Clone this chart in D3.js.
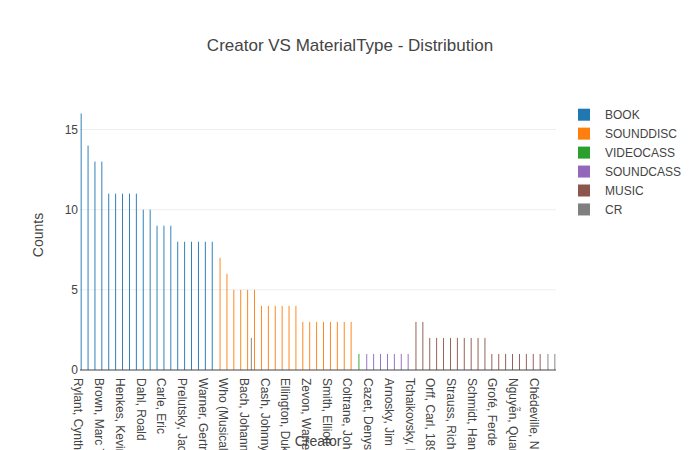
<!DOCTYPE html>
<html>
<head>
<meta charset="utf-8">
<script src="https://cdn.jsdelivr.net/npm/d3@7"></script>
<style>
  html, body { margin: 0; padding: 0; background: #fff; }
  svg { display: block; font-family: "Liberation Sans", Arial, sans-serif; }
</style>
</head>
<body>
<svg id="chart" width="700" height="450"></svg>
<script>
// ---------- DATA (one trace per MaterialType, creators sorted by count) ----------
const materialTypes = ["BOOK", "SOUNDDISC", "VIDEOCASS", "SOUNDCASS", "MUSIC", "CR"];
const typeColors = ["#1f77b4", "#ff7f0e", "#2ca02c", "#9467bd", "#8c564b", "#7f7f7f"];

const bookCreators = [
  "Rylant, Cynthia", "(book creator 2)", "(book creator 3)", "Brown, Marc Tolon",
  "(book creator 5)", "(book creator 6)", "Henkes, Kevin", "(book creator 8)",
  "(book creator 9)", "Dahl, Roald", "(book creator 11)", "(book creator 12)",
  "Carle, Eric", "(book creator 14)", "(book creator 15)", "Prelutsky, Jack",
  "(book creator 17)", "(book creator 18)", "Warner, Gertrude Chandler", "(book creator 20)"
];
const bookCounts = [16, 14, 13, 13, 11, 11, 11, 11, 11, 10, 10, 9, 9, 9, 8, 8, 8, 8, 8, 8];

const sounddiscCreators = [
  "(sounddisc creator 1)", "Who (Musical group)", "(sounddisc creator 3)", "(sounddisc creator 4)",
  "Bach, Johann Sebastian", "(sounddisc creator 6)", "(sounddisc creator 7)", "Cash, Johnny",
  "(sounddisc creator 9)", "(sounddisc creator 10)", "Ellington, Duke", "(sounddisc creator 12)",
  "(sounddisc creator 13)", "Zevon, Warren", "(sounddisc creator 15)", "(sounddisc creator 16)",
  "Smith, Elliott", "(sounddisc creator 18)", "(sounddisc creator 19)", "Coltrane, John"
];
const sounddiscCounts = [7, 6, 5, 5, 5, 5, 4, 4, 4, 4, 4, 4, 3, 3, 3, 3, 3, 3, 3, 3];

const videocassCreators = ["(videocass creator 1)"];
const videocassCounts = [1];

const soundcassCreators = [
  "(soundcass creator 1)", "Cazet, Denys", "(soundcass creator 3)", "(soundcass creator 4)",
  "Arnosky, Jim", "(soundcass creator 6)", "(soundcass creator 7)"
];
const soundcassCounts = [1, 1, 1, 1, 1, 1, 1];

const musicCreators = [
  "Tchaikovsky, Peter Ilich", "(music creator 2)", "(music creator 3)", "Orff, Carl, 1895-1982",
  "(music creator 5)", "(music creator 6)", "Strauss, Richard", "(music creator 8)",
  "(music creator 9)", "Schmidt, Hans", "(music creator 11)", "(music creator 12)",
  "Grofé, Ferde", "(music creator 14)", "(music creator 15)", "Nguyễn, Quang",
  "(music creator 17)", "(music creator 18)", "Chédeville, Nicolas"
];
const musicCounts = [3, 3, 2, 2, 2, 2, 2, 2, 2, 2, 2, 1, 1, 1, 1, 1, 1, 1, 1];

const crCreators = ["Bach, Johann Sebastian", "(cr creator 2)", "(cr creator 3)"];
const crCounts = [2, 1, 1];

const yTickValues = [0, 5, 10, 15];
const titleText = "Creator VS MaterialType - Distribution";
const xTitle = "Creator";
const yTitle = "Counts";

// ---------- BUILD ----------
const traces = [
  { type: "BOOK", x: bookCreators, y: bookCounts },
  { type: "SOUNDDISC", x: sounddiscCreators, y: sounddiscCounts },
  { type: "VIDEOCASS", x: videocassCreators, y: videocassCounts },
  { type: "SOUNDCASS", x: soundcassCreators, y: soundcassCounts },
  { type: "MUSIC", x: musicCreators, y: musicCounts },
  { type: "CR", x: crCreators, y: crCounts }
];

// category order = order of first appearance across traces
const categories = [];
traces.forEach(t => t.x.forEach(c => { if (!categories.includes(c)) categories.push(c); }));

const svg = d3.select("#chart");
const margin = { left: 80, top: 100, bottom: 80 };
const plotRight = 556;
const plotBottom = 450 - margin.bottom;

const x = d3.scaleBand().domain(categories).range([margin.left, plotRight]).paddingInner(0).paddingOuter(0);
const step = x.step();
const xSub = d3.scaleBand().domain(materialTypes).range([0.1 * step, 0.9 * step]).padding(0);
const maxVal = d3.max(traces, t => d3.max(t.y));
const y = d3.scaleLinear().domain([0, maxVal * 1.0526]).range([plotBottom, margin.top]);
const color = d3.scaleOrdinal().domain(materialTypes).range(typeColors);

// gridlines
svg.append("g").selectAll("line")
  .data(yTickValues.filter(v => v !== 0))
  .join("line")
  .attr("x1", margin.left).attr("x2", plotRight)
  .attr("y1", d => y(d)).attr("y2", d => y(d))
  .attr("stroke", "#eee").attr("stroke-width", 1);

// bars
traces.forEach(t => {
  const pts = t.x.map((c, i) => ({ c, v: t.y[i] }));
  svg.append("g").attr("class", "trace")
    .selectAll("rect").data(pts).join("rect")
    .attr("x", d => x(d.c) + xSub(t.type))
    .attr("width", xSub.bandwidth())
    .attr("y", d => y(d.v))
    .attr("height", d => y(0) - y(d.v))
    .attr("fill", color(t.type));
});

// zero line
svg.append("line")
  .attr("x1", margin.left).attr("x2", plotRight)
  .attr("y1", y(0)).attr("y2", y(0))
  .attr("stroke", "#444").attr("stroke-width", 1);

// y axis
const yAxis = svg.append("g")
  .attr("transform", `translate(${margin.left},0)`)
  .call(d3.axisLeft(y).tickValues(yTickValues).tickSize(0).tickPadding(2).tickFormat(d3.format("d")));
yAxis.select(".domain").remove();
yAxis.selectAll("text")
  .attr("fill", "#444").style("font-size", "12px")
  .style("font-family", '"Liberation Sans", Arial, sans-serif');

// x axis (every third category labelled)
const xAxis = svg.append("g")
  .attr("transform", `translate(0,${plotBottom})`)
  .call(d3.axisBottom(x).tickValues(categories.filter((d, i) => i % 3 === 0)).tickSize(0));
xAxis.select(".domain").remove();
xAxis.selectAll("text")
  .attr("transform", "rotate(90)")
  .attr("x", 8).attr("y", 9).attr("dy", 0)
  .attr("text-anchor", "start")
  .attr("fill", "#444").style("font-size", "12px")
  .style("font-family", '"Liberation Sans", Arial, sans-serif');

// titles
svg.append("text")
  .attr("x", 350).attr("y", 51)
  .attr("text-anchor", "middle")
  .attr("fill", "#444").style("font-size", "17px")
  .text(titleText);

svg.append("text")
  .attr("x", (margin.left + plotRight) / 2).attr("y", 446)
  .attr("text-anchor", "middle")
  .attr("fill", "#444").style("font-size", "14px")
  .text(xTitle);

svg.append("text")
  .attr("transform", `translate(43,${(margin.top + plotBottom) / 2}) rotate(-90)`)
  .attr("text-anchor", "middle")
  .attr("fill", "#444").style("font-size", "14px")
  .text(yTitle);

// legend
const legend = svg.append("g").attr("transform", "translate(578,114.7)");
const items = legend.selectAll("g").data(materialTypes).join("g")
  .attr("transform", (d, i) => `translate(0,${i * 18.95})`);
items.append("rect")
  .attr("x", 0).attr("y", -6).attr("width", 12).attr("height", 12)
  .attr("fill", d => color(d));
items.append("text")
  .attr("x", 27).attr("y", 4.5)
  .attr("fill", "#444").style("font-size", "12px")
  .text(d => d);
</script>
</body>
</html>
